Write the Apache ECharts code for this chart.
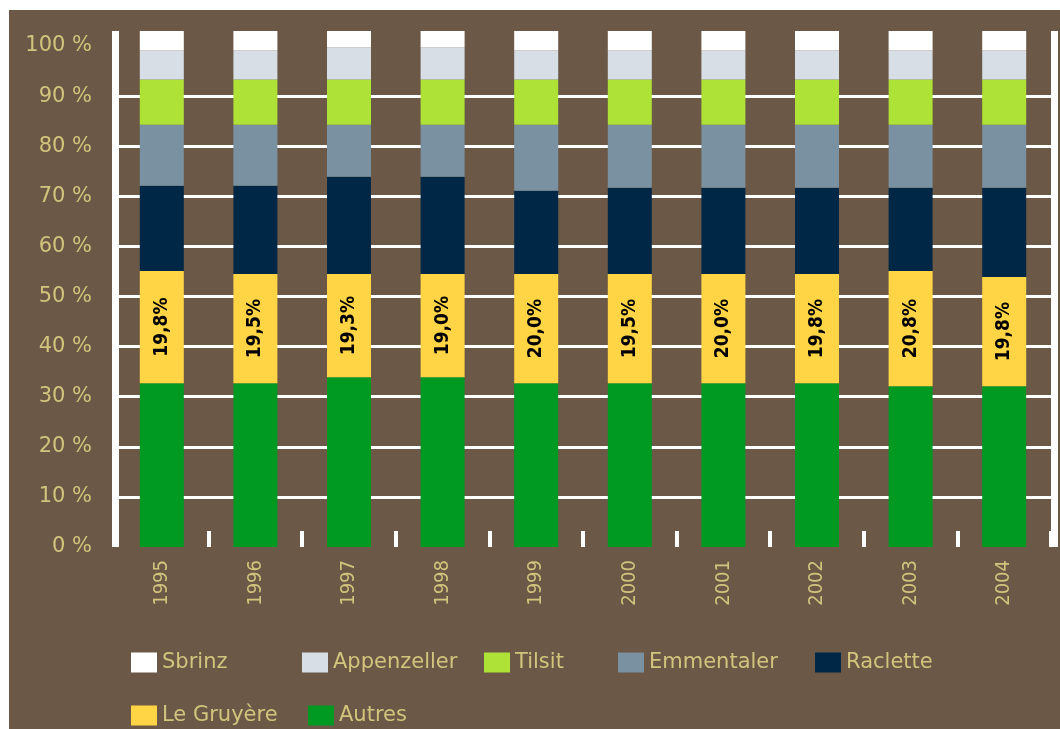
<!DOCTYPE html>
<html>
<head>
<meta charset="utf-8">
<title>Fromages</title>
<script src="https://cdn.jsdelivr.net/npm/echarts@6/dist/echarts.min.js"></script>
<style>
  html, body { margin: 0; padding: 0; background: #ffffff; }
  #chart { position: absolute; left: 9px; top: 10px; width: 1051px; height: 719px; }
</style>
</head>
<body>
<div id="chart"></div>
<script>
const years = ['1995', '1996', '1997', '1998', '1999', '2000', '2001', '2002', '2003', '2004']
// parts, bottom to top
const autres = [32.7, 32.7, 33.9, 33.9, 32.7, 32.7, 32.7, 32.7, 32.1, 32.1]
const gruyere = [22.4, 21.8, 20.6, 20.6, 21.8, 21.8, 21.8, 21.8, 23.0, 21.8]
const raclette = [17.0, 17.6, 19.4, 19.4, 16.6, 17.2, 17.2, 17.2, 16.6, 17.8]
const emmentaler = [12.2, 12.2, 10.4, 10.4, 13.2, 12.6, 12.6, 12.6, 12.6, 12.6]
const tilsit = [9.0, 9.0, 9.0, 9.0, 9.0, 9.0, 9.0, 9.0, 9.0, 9.0]
const appenzeller = [5.8, 5.8, 6.4, 6.4, 5.8, 5.8, 5.8, 5.8, 5.8, 5.8]
const sbrinz = [4.0, 4.0, 3.4, 3.4, 4.0, 4.0, 4.0, 4.0, 4.0, 4.0]
const gruyereLabels = ['19,8%', '19,5%', '19,3%', '19,0%', '20,0%', '19,5%', '20,0%', '19,8%', '20,8%', '19,8%']

const textColor = '#d2c47c'
const legendFont = { color: textColor, fontSize: 21, fontFamily: 'DejaVu Sans' }

function legendItem(name, left, top) {
  return {
    data: [name],
    left: left,
    top: top,
    padding: 0,
    icon: 'rect',
    itemWidth: 26,
    itemHeight: 20,
    selectedMode: false,
    textStyle: legendFont,
  }
}

function barSeries(name, data, color) {
  return {
    name: name,
    type: 'bar',
    stack: 'total',
    barWidth: 44,
    data: data,
    itemStyle: { color: color },
    yAxisIndex: 0,
  }
}

let myChart = echarts.init(document.getElementById('chart'))
myChart.setOption({
  backgroundColor: '#6b5846',
  animation: false,
  grid: { left: 106, right: 9, top: 21, bottom: 182 },
  legend: [
    legendItem('Sbrinz', 122, 642),
    legendItem('Appenzeller', 293, 642),
    legendItem('Tilsit', 475, 642),
    legendItem('Emmentaler', 609, 642),
    legendItem('Raclette', 806, 642),
    legendItem('Le Gruyère', 122, 695),
    legendItem('Autres', 299, 695),
  ],
  xAxis: {
    type: 'category',
    data: years,
    axisLine: { show: false },
    axisTick: { show: true, inside: true, length: 16, lineStyle: { color: '#ffffff', width: 4, cap: 'butt' } },
    axisLabel: {
      rotate: 90,
      margin: 13,
      color: textColor,
      fontSize: 20,
      fontFamily: 'DejaVu Sans Condensed',
    },
  },
  yAxis: [
    {
      type: 'value',
      min: 0,
      max: 103,
      interval: 10,
      axisLine: { show: true, lineStyle: { color: '#ffffff', width: 7, cap: 'butt' } },
      axisTick: { show: false },
      axisLabel: {
        margin: 23,
        color: textColor,
        fontSize: 21,
        fontFamily: 'DejaVu Sans',
        formatter: (v) => (v % 10 === 0 ? v + ' %' : ''),
      },
      splitLine: {
        show: true,
        showMinLine: false,
        showMaxLine: false,
        lineStyle: {
          width: 3,
          color: ['#ffffff', '#ffffff', '#ffffff', '#ffffff', '#ffffff', '#ffffff', '#ffffff', '#ffffff', '#ffffff', 'rgba(0,0,0,0)', 'rgba(0,0,0,0)'],
        },
      },
    },
    {
      type: 'value',
      position: 'right',
      min: 0,
      max: 103,
      offset: 3,
      axisLine: { show: true, lineStyle: { color: '#ffffff', width: 7, cap: 'butt' } },
      axisTick: { show: false },
      axisLabel: { show: false },
      splitLine: { show: false },
    },
  ],
  series: [
    barSeries('Autres', autres, '#009a23'),
    {
      ...barSeries('Le Gruyère', gruyere, '#ffd445'),
      label: {
        show: true,
        position: 'inside',
        rotate: 90,
        color: '#000000',
        fontSize: 19,
        fontWeight: 'bold',
        fontFamily: 'DejaVu Sans Condensed',
        formatter: (p) => gruyereLabels[p.dataIndex],
      },
    },
    barSeries('Raclette', raclette, '#002846'),
    barSeries('Emmentaler', emmentaler, '#7a91a2'),
    barSeries('Tilsit', tilsit, '#afe236'),
    barSeries('Appenzeller', appenzeller, '#d7dee6'),
    barSeries('Sbrinz', sbrinz, '#ffffff'),
  ],
})
</script>
</body>
</html>
